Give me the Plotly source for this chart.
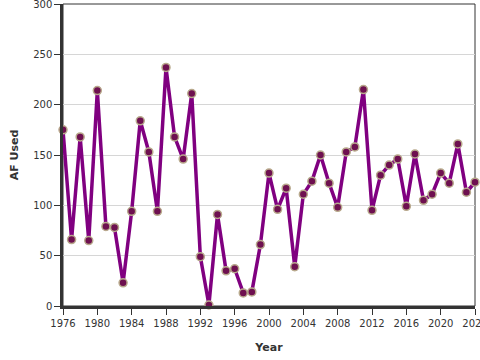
import plotly.graph_objects as go

years = list(range(1976, 2025))
af_used = [175, 66, 168, 65, 214, 79, 78, 23, 94, 184, 153, 94, 237, 168, 146, 211,
           49, 1, 91, 35, 37, 13, 14, 61, 132, 96, 117, 39, 111, 124, 150, 122,
           98, 153, 158, 215, 95, 130, 140, 146, 99, 151, 105, 111, 132, 122, 161, 113, 123]

x_ticks = list(range(1976, 2025, 4))
y_ticks = [0, 50, 100, 150, 200, 250, 300]

fig = go.Figure()
fig.add_trace(go.Scatter(
    x=years, y=af_used, mode="lines+markers",
    line=dict(color="#800080", width=3.5),
    marker=dict(size=8, color="#6e1050", line=dict(color="#b8a98c", width=1.5)),
    cliponaxis=False, showlegend=False,
))

fig.update_layout(
    width=480, height=360,
    margin=dict(l=63, r=5, t=4, b=54),
    plot_bgcolor="white", paper_bgcolor="white",
    font=dict(family="DejaVu Sans", size=10, color="#333333"),
    xaxis=dict(
        range=[1976, 2024], tickvals=x_ticks, ticktext=[str(t) for t in x_ticks],
        showgrid=False, zeroline=False, automargin=False, ticklabeloverflow="allow",
        showline=True, linecolor="#333333", linewidth=2.5,
        ticks="outside", ticklen=6, tickcolor="#333333", tickwidth=1,
        title=dict(text="<b>Year</b>", font=dict(size=11, color="#333333"), standoff=16),
    ),
    yaxis=dict(
        range=[0, 300], tickvals=y_ticks,
        showgrid=True, gridcolor="#d6d6d6", gridwidth=1, zeroline=False,
        automargin=False, ticklabeloverflow="allow",
        showline=True, linecolor="#333333", linewidth=2.5,
        ticks="outside", ticklen=6, tickcolor="#333333", tickwidth=1,
        title=dict(text="<b>AF Used</b>", font=dict(size=11, color="#333333"), standoff=13),
    ),
    shapes=[dict(type="rect", xref="paper", yref="paper", x0=0, y0=0, x1=1, y1=1,
                 line=dict(color="#333333", width=1), layer="below")],
)

fig.write_html("out.html", config={"displayModeBar": False},
               post_script="document.body.style.margin='0';document.body.style.overflow='hidden';")
